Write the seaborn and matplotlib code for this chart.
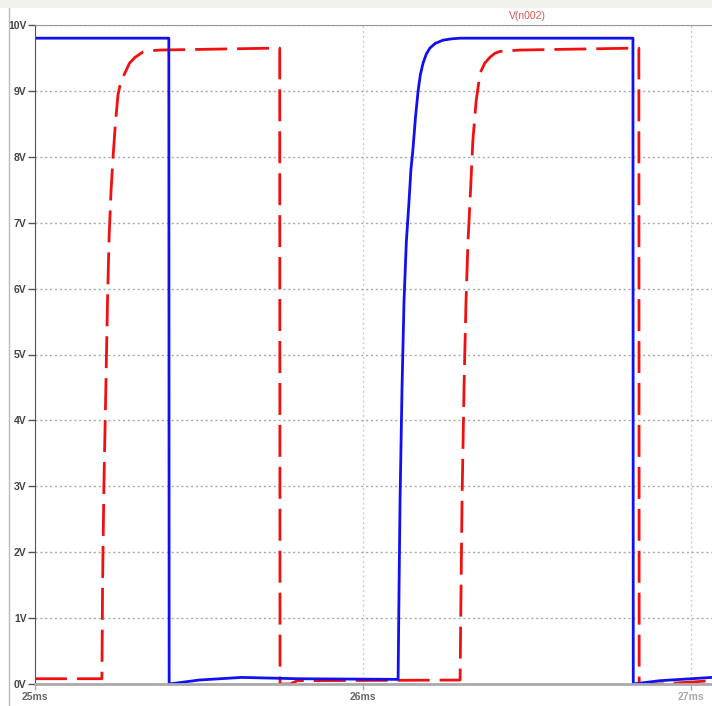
import pandas as pd
import seaborn as sns
import matplotlib.pyplot as plt
from matplotlib.lines import Line2D
from matplotlib.patches import Rectangle

# traces (time in ms, voltage in V)
blue_t = [25.0, 25.408, 25.409, 25.50, 25.63, 25.80, 26.107, 26.110, 26.113, 26.119,
          26.125, 26.132, 26.140, 26.146, 26.152, 26.160, 26.168, 26.175, 26.183, 26.193,
          26.204, 26.220, 26.244, 26.270, 26.296, 26.823, 26.824, 26.905, 27.064]
blue_v = [9.80, 9.80, 0.00, 0.06, 0.10, 0.08, 0.07, 1.5, 2.8, 4.5,
          5.8, 6.7, 7.3, 7.8, 8.1, 8.6, 9.0, 9.25, 9.42, 9.56,
          9.65, 9.72, 9.77, 9.79, 9.80, 9.80, 0.00, 0.05, 0.10]

red_t = [25.0, 25.204, 25.206, 25.210, 25.216, 25.221, 25.226, 25.232, 25.238, 25.245,
         25.253, 25.262, 25.274, 25.288, 25.305, 25.329, 25.355, 25.381, 25.746, 25.747,
         25.778, 25.80, 26.296, 26.299, 26.302, 26.308, 26.314, 26.320, 26.326, 26.335,
         26.345, 26.357, 26.371, 26.387, 26.402, 26.418, 26.448, 26.479, 26.841, 26.842,
         26.905, 27.064]
red_v = [0.08, 0.08, 1.5, 3.0, 4.5, 5.8, 6.8, 7.5, 8.0, 8.5,
         8.94, 9.15, 9.27, 9.42, 9.51, 9.59, 9.61, 9.62, 9.65, 0.00,
         0.00, 0.05, 0.06, 1.5, 2.8, 4.5, 5.8, 6.7, 7.3, 8.25,
         8.85, 9.27, 9.42, 9.51, 9.57, 9.60, 9.61, 9.62, 9.65, 0.00,
         0.00, 0.05]

y_ticks = list(range(11))
y_labels = [f"{v}V" for v in y_ticks]
x_ticks = [25, 26, 27]
x_labels = ["25ms", "26ms", "27ms"]

blue = pd.DataFrame({"t": blue_t, "v": blue_v})
red = pd.DataFrame({"t": red_t, "v": red_v})

sns.set_style("white")
plt.rcParams['font.family'] = ['Liberation Sans', 'DejaVu Sans']

fig = plt.figure(figsize=(7.12, 7.06), dpi=100)
ax = fig.add_axes([35/712, 22/706, 677/712, 659/706])

# window frame bits
fig.add_artist(Rectangle((0, 698/706), 1, 8/706, transform=fig.transFigure,
                         facecolor='#f2f2ec', edgecolor='none'))
fig.add_artist(Line2D([9/712, 9/712], [0, 698/706], color='#bbbbbb', lw=1))

sns.lineplot(data=red, x="t", y="v", ax=ax, sort=False, estimator=None,
             color='#f01010', lw=2, linestyle=(0, (11.5, 3.6)))
sns.lineplot(data=blue, x="t", y="v", ax=ax, sort=False, estimator=None,
             color='#1010f0', lw=2)

ax.set_xlim(25, 25 + 677/328)
ax.set_ylim(0, 10)
ax.set_yticks(y_ticks)
ax.set_yticklabels(y_labels, fontweight='bold')
ax.set_xticks(x_ticks)
ax.set_xticklabels(x_labels, fontweight='bold')
ax.set_xlabel("")
ax.set_ylabel("")

ax.yaxis.grid(True, linestyle=(0, (1.5, 2)), color='#aaaaaa', lw=1)
ax.xaxis.grid(True, linestyle=(0, (1.5, 2)), color='#cccccc', lw=1)

ax.spines['right'].set_visible(False)
ax.spines['top'].set_color('#999999')
ax.spines['left'].set_color('#555555')
ax.spines['bottom'].set_color('#aaaaaa')
ax.spines['bottom'].set_linewidth(2)

ax.tick_params(axis='y', length=5, width=1, color='#555555', labelsize=7.5,
               labelcolor='#444444', pad=1, left=True)
ax.tick_params(axis='x', length=4, width=1, color='#aaaaaa', labelsize=7.5,
               labelcolor='#666666', pad=2, bottom=True)
ax.get_xticklabels()[2].set_color('#aaaaaa')

fig.text(527/712, 1 - 16/706, "V(n002)", color='#e05555', fontsize=7.5,
         ha='center', va='center')

fig.savefig("out.png", dpi=100)
